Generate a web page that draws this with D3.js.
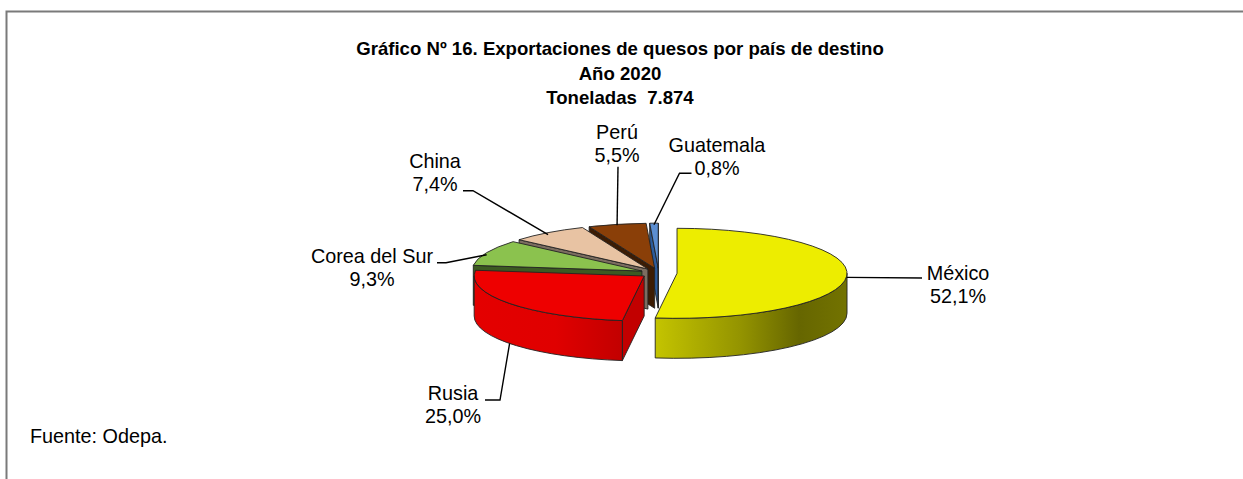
<!DOCTYPE html>
<html>
<head>
<meta charset="utf-8">
<script src="https://cdn.jsdelivr.net/npm/d3@7"></script>
<style>
  html, body { margin: 0; padding: 0; background: #fff; }
  svg { display: block; font-family: "Liberation Sans", Arial, sans-serif; }
  text { white-space: pre; }
</style>
</head>
<body>
<svg id="chart" width="1243" height="479"></svg>
<script>
// ---------------- data ----------------
const countries = ["México", "Rusia", "Corea del Sur", "China", "Perú", "Guatemala"];
const shares = [52.1, 25.0, 9.3, 7.4, 5.5, 0.8];
const shareLabels = ["52,1%", "25,0%", "9,3%", "7,4%", "5,5%", "0,8%"];
const titleLines = ["Gráfico Nº 16. Exportaciones de quesos por país de destino", "Año 2020", "Toneladas  7.874"];
const sourceText = "Fuente: Odepa.";

// ---------------- styles ----------------
const topColors  = ["#EDED00", "#EE0000", "#8BC24E", "#E8C3A3", "#8A3F08", "#5B8ED2"];
const faceColors = ["#8C8C00", "#C20000", "#3C5A22", "#7C6D60", "#3C1C04", "#2D5C9C"];
const wallStops = [
  [[0, "#C4C400"], [0.45, "#939300"], [0.75, "#666600"], [1, "#737300"]],
  [[0, "#E40000"], [0.55, "#E00000"], [1, "#C20000"]],
  [[0, "#3C5A22"], [1, "#3C5A22"]],
  [[0, "#7C6D60"], [1, "#7C6D60"]],
  [[0, "#3C1C04"], [1, "#3C1C04"]],
  [[0, "#2D5C9C"], [1, "#2D5C9C"]]
];

// ---------------- layout ----------------
const W = 1243, H = 479;
const pieCX = 658.7, pieCY = 273, RX = 170, RY = 45, DEPTH = 40, EXPLODE = 0.108;
const labelFont = 19.8, titleFont = 18.6;
// label layout: text centre x, baseline of first line, leader elbow & end, anchor depth fraction
const labelLayout = [
  { x: 958, y: 280, pts: [[922, 278]], frac: 0.03 },
  { x: 453, y: 399.5, pts: [[500, 400], [485, 400]], frac: 1.0 },
  { x: 372, y: 262.5, pts: [[446, 262.7], [437, 262.7]], frac: 0.05 },
  { x: 435, y: 168, pts: [[473, 190.7], [463, 190.7]], frac: 0.05 },
  { x: 617, y: 139, pts: [[618, 166.7]], frac: 0.02 },
  { x: 717, y: 151.5, pts: [[679.5, 173.3], [691.5, 173.3]], frac: 0.04 }
];

const svg = d3.select("#chart");
svg.append("rect").attr("width", W).attr("height", H).attr("fill", "#fff");

// frame
svg.append("rect")
  .attr("x", 6.5).attr("y", 11.5).attr("width", 1400).attr("height", 700)
  .attr("fill", "none").attr("stroke", "#7a7a7a").attr("stroke-width", 2);

// title
const title = svg.append("text").attr("text-anchor", "middle")
  .attr("font-weight", "bold").attr("font-size", titleFont).attr("fill", "#000");
titleLines.forEach((t, i) => {
  title.append("tspan").attr("x", 620).attr("y", 55 + i * 24.5).text(t);
});

// source
svg.append("text").attr("x", 30).attr("y", 443).attr("font-size", labelFont)
  .attr("fill", "#000").text(sourceText);

// gradients
const defs = svg.append("defs");
wallStops.forEach((stops, i) => {
  const g = defs.append("linearGradient").attr("id", "wall" + i)
    .attr("x1", "0%").attr("x2", "100%").attr("y1", "0%").attr("y2", "0%");
  stops.forEach(s => g.append("stop").attr("offset", s[0]).attr("stop-color", s[1]));
});

// pie angles through d3.pie
const arcs = d3.pie().sort(null).value(d => d).startAngle(0).endAngle(2 * Math.PI)(shares);
const k = RY / RX;           // vertical squash
const D = DEPTH / k;         // depth in local (unsquashed) units
const R = RX;

const slices = arcs.map((a, i) => {
  const mid = (a.startAngle + a.endAngle) / 2;
  return {
    i, a, mid,
    ox: pieCX + EXPLODE * RX * Math.sin(mid),
    oy: pieCY - EXPLODE * RY * Math.cos(mid)
  };
});

const stroke = "#222";
const sw = 0.9;

const pieG = svg.append("g");

function sliceGroup(parent, s) {
  return parent.append("g").attr("transform", `translate(${s.ox},${s.oy}) scale(1,${k})`);
}

// sides: draw back-to-front
const sidesOrder = slices.slice().sort((p, q) => (-Math.cos(p.mid)) - (-Math.cos(q.mid)));
const sidesLayer = pieG.append("g");
sidesOrder.forEach(s => {
  const g = sliceGroup(sidesLayer, s);
  const t0 = s.a.startAngle, t1 = s.a.endAngle;
  const faces = [];
  if (Math.cos(t0 - Math.PI / 2) < 0) faces.push(t0);
  if (Math.cos(t1 + Math.PI / 2) < 0) faces.push(t1);
  faces.forEach(t => {
    const px = R * Math.sin(t), py = -R * Math.cos(t);
    const p = d3.path();
    p.moveTo(0, 0); p.lineTo(px, py); p.lineTo(px, py + D); p.lineTo(0, D); p.closePath();
    g.append("path").attr("d", p.toString())
      .attr("fill", faceColors[s.i]).attr("stroke", stroke).attr("stroke-width", sw)
      .attr("vector-effect", "non-scaling-stroke").attr("stroke-linejoin", "round");
  });
  const w0 = Math.max(t0, Math.PI / 2), w1 = Math.min(t1, 3 * Math.PI / 2);
  if (w1 > w0) {
    const p = d3.path();
    p.arc(0, 0, R, w0 - Math.PI / 2, w1 - Math.PI / 2, false);
    p.lineTo(R * Math.cos(w1 - Math.PI / 2), R * Math.sin(w1 - Math.PI / 2) + D);
    p.arc(0, D, R, w1 - Math.PI / 2, w0 - Math.PI / 2, true);
    p.closePath();
    g.append("path").attr("d", p.toString())
      .attr("fill", `url(#wall${s.i})`).attr("stroke", stroke).attr("stroke-width", sw)
      .attr("vector-effect", "non-scaling-stroke").attr("stroke-linejoin", "round");
  }
});

// tops
const arcGen = d3.arc().innerRadius(0).outerRadius(R);
const topsLayer = pieG.append("g");
slices.forEach(s => {
  sliceGroup(topsLayer, s).append("path").attr("d", arcGen(s.a))
    .attr("fill", topColors[s.i]).attr("stroke", stroke).attr("stroke-width", sw)
    .attr("vector-effect", "non-scaling-stroke").attr("stroke-linejoin", "round");
});

// labels and leader lines
const labelsG = svg.append("g");
slices.forEach(s => {
  const L = labelLayout[s.i];
  const ax = s.ox + RX * Math.sin(s.mid);
  const ay = s.oy - RY * Math.cos(s.mid) + DEPTH * L.frac;
  const line = d3.line();
  labelsG.append("path").attr("d", line([[ax, ay], ...L.pts]))
    .attr("fill", "none").attr("stroke", "#000").attr("stroke-width", 1.4);
  const t = labelsG.append("text").attr("text-anchor", "middle").attr("font-size", labelFont).attr("fill", "#000");
  t.append("tspan").attr("x", L.x).attr("y", L.y).text(countries[s.i]);
  t.append("tspan").attr("x", L.x).attr("y", L.y + 23).text(shareLabels[s.i]);
});
</script>
</body>
</html>
